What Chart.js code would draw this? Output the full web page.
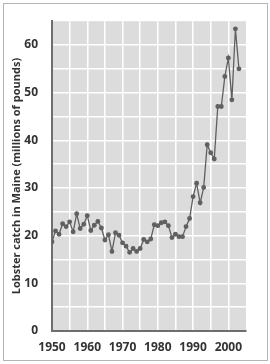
<!DOCTYPE html>
<html>
<head>
<meta charset="utf-8">
<script src="https://cdn.jsdelivr.net/npm/chart.js@4"></script>
<style>
  html, body { margin: 0; padding: 0; background: #fff; }
  #wrap { position: relative; width: 270px; height: 364px; }
  #frame { position: absolute; left: 3px; top: 3px; width: 263px; height: 356px; border: 1px solid #b4b4b4; }
  canvas { position: absolute; left: 0; top: 0; }
</style>
</head>
<body>
<div id="wrap">
  <div id="frame"></div>
  <canvas id="lobster" width="270" height="364"></canvas>
</div>
<script>
// ---- data ----
const years = [1950, 1951, 1952, 1953, 1954, 1955, 1956, 1957, 1958, 1959,
               1960, 1961, 1962, 1963, 1964, 1965, 1966, 1967, 1968, 1969,
               1970, 1971, 1972, 1973, 1974, 1975, 1976, 1977, 1978, 1979,
               1980, 1981, 1982, 1983, 1984, 1985, 1986, 1987, 1988, 1989,
               1990, 1991, 1992, 1993, 1994, 1995, 1996, 1997, 1998, 1999,
               2000, 2001, 2002, 2003];
const catchMillions = [18.7, 21.0, 20.3, 22.5, 21.9, 22.9, 20.8, 24.6, 21.5, 22.4,
                       24.2, 21.1, 22.2, 23.0, 21.6, 19.1, 20.2, 16.7, 20.6, 20.1,
                       18.5, 17.8, 16.5, 17.3, 16.7, 17.3, 19.2, 18.7, 19.3, 22.3,
                       22.1, 22.7, 22.9, 22.1, 19.6, 20.3, 19.8, 19.8, 21.9, 23.6,
                       28.2, 31.0, 26.9, 30.1, 39.1, 37.4, 36.1, 47.1, 47.1, 53.4,
                       57.3, 48.5, 63.4, 55.0];
const xTickLabels = [1950, 1960, 1970, 1980, 1990, 2000];
const yTickLabels = [0, 10, 20, 30, 40, 50, 60];

const points = years.map((yr, i) => ({ x: yr, y: catchMillions[i] }));

// gray plot background
const plotBackground = {
    id: 'plotBackground',
    beforeDraw(chart) {
        const a = chart.chartArea;
        const c = chart.ctx;
        c.save();
        c.fillStyle = '#dcdcdc';
        c.fillRect(a.left, a.top, a.right - a.left, a.bottom - a.top);
        c.restore();
    }
};

const font = { family: '"Open Sans", sans-serif', size: 12, weight: 'bold' };
const textColor = '#333333';

new Chart(document.getElementById('lobster'), {
    type: 'line',
    data: {
        datasets: [{
            data: points,
            borderColor: '#606060',
            backgroundColor: '#606060',
            borderWidth: 1.3,
            pointRadius: 1.8,
            pointHoverRadius: 1.8,
            tension: 0
        }]
    },
    options: {
        responsive: false,
        animation: false,
        layout: { padding: { top: 12, right: 24, left: 0, bottom: 0 } },
        plugins: { legend: { display: false }, tooltip: { enabled: false } },
        scales: {
            x: {
                type: 'linear',
                min: 1950,
                max: 2005,
                afterFit(s) { s.height = 33; },
                ticks: {
                    stepSize: 5,
                    padding: 9,
                    maxRotation: 0,
                    autoSkip: false,
                    color: textColor,
                    font: font,
                    callback: v => xTickLabels.includes(v) ? String(v) : ''
                },
                grid: {
                    drawTicks: false,
                    lineWidth: 1.5,
                    color: c => (c.tick && (c.tick.value === 1950 || c.tick.value === 2005)) ? 'rgba(0,0,0,0)' : '#ffffff'
                },
                border: { display: true, color: '#6e6e6e', width: 2 }
            },
            y: {
                min: 0,
                max: 65,
                afterFit(s) { s.width = 52; },
                ticks: {
                    stepSize: 5,
                    padding: 14,
                    color: textColor,
                    font: font,
                    callback: v => yTickLabels.includes(v) ? String(v) : ''
                },
                grid: {
                    drawTicks: false,
                    lineWidth: 1.5,
                    color: c => (c.tick && (c.tick.value === 0 || c.tick.value === 65)) ? 'rgba(0,0,0,0)' : '#ffffff'
                },
                border: { display: true, color: '#6e6e6e', width: 2 },
                title: {
                    display: true,
                    text: 'Lobster catch in Maine (millions of pounds)',
                    color: textColor,
                    font: { family: '"Open Sans", sans-serif', size: 11, weight: 'bold' },
                    padding: { top: 10, bottom: 0 }
                }
            }
        }
    },
    plugins: [plotBackground]
});
</script>
</body>
</html>
